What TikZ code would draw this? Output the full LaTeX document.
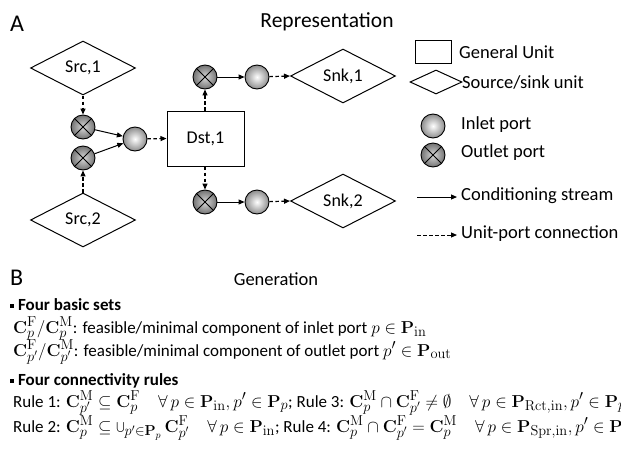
\documentclass[tikz,border=0pt]{standalone}
\usepackage[no-math]{fontspec}
\setmainfont{Carlito}
\usetikzlibrary{shapes.geometric,arrows.meta}
% formulas in the text lines are set a little larger than the words
\DeclareMathSizes{17}{18.5}{13.5}{10}

\tikzset{
  unitbox/.style={draw, line width=1pt, minimum width=77pt, minimum height=55pt, inner sep=0pt, font=\fontsize{18}{20}\selectfont},
  srcsnk/.style={draw, diamond, aspect=2, line width=1pt, minimum width=105pt, minimum height=54pt, inner sep=0pt, font=\fontsize{18}{20}\selectfont},
  inport/.style={circle, draw, line width=0.9pt, minimum size=24pt, inner sep=0pt, inner color=white, outer color=black!45},
  outport/.style={circle, draw, line width=0.9pt, minimum size=24pt, inner sep=0pt, inner color=black!15, outer color=black!55,
    path picture={\draw[line width=0.9pt] (path picture bounding box.north west) -- (path picture bounding box.south east)
      (path picture bounding box.north east) -- (path picture bounding box.south west);}},
  stream/.style={line width=1pt, -{Triangle[length=6pt,width=5pt]}},
  link/.style={line width=1.2pt, dash pattern=on 3.5pt off 2.5pt, -{Triangle[length=6pt,width=5pt]}},
  legtext/.style={anchor=west, inner sep=0pt, font=\fontsize{18.5}{20}\selectfont},
  body/.style={anchor=base west, inner sep=0pt, font=\fontsize{17}{19}\selectfont},
  bodyhead/.style={anchor=base west, inner sep=0pt, font=\fontsize{17}{19}\selectfont\bfseries},
  panel/.style={anchor=base west, inner sep=0pt, font=\fontsize{24}{26}\selectfont},
}
% math shorthands for the set notation
\newcommand{\Cset}[2]{\mathbf{C}_{#1}^{\mathrm{#2}}}
\newcommand{\Pset}[1]{\mathbf{P}_{\mathrm{#1}}}
\newcommand{\gapq}{\hspace{18pt}}

\begin{document}
\begin{tikzpicture}[x=1pt, y=-1pt]
\useasboundingbox (0,0) rectangle (621,453);
\clip (0,0) rectangle (621,453);

% ---- panel A: representation ----
\node[panel] (labA) at (10,31) {A};
\node[anchor=base, inner sep=0pt, font=\fontsize{21.5}{23}\selectfont] (titA) at (327,27) {Representation};

\node[srcsnk] (src1) at (83,68) {Src,1};
\node[srcsnk] (src2) at (83,220) {Src,2};
\node[outport] (o1) at (83,127) {};
\node[outport] (o2) at (83,158) {};
\node[inport] (i1) at (135,139) {};
\node[unitbox] (dst) at (205.5,138.5) {Dst,1};
\node[outport] (o3) at (205,77) {};
\node[inport] (i3) at (257,77) {};
\node[outport] (o4) at (205,202) {};
\node[inport] (i4) at (257,202) {};
\node[srcsnk] (snk1) at (343,76) {Snk,1};
\node[srcsnk] (snk2) at (343,201) {Snk,2};

\draw[link] (src1.south) -- (o1.north);
\draw[link] (src2.north) -- (o2.south);
\draw[stream] (o1) -- (i1);
\draw[stream] (o2) -- (i1);
\draw[link] (i1) -- (dst.west);
\draw[link] (dst.north -| o3) -- (o3.south);
\draw[link] (dst.south -| o4) -- (o4.north);
\draw[stream] (o3) -- (i3);
\draw[stream] (o4) -- (i4);
\draw[link] (i3) -- (snk1.west);
\draw[link] (i4) -- (snk2.west);

% ---- legend ----
\node[draw, line width=1pt, minimum width=36pt, minimum height=23pt, inner sep=0pt] (lbox) at (433,51.5) {};
\node[legtext] (tbox) at (459,52) {General Unit};
\node[draw, diamond, aspect=2.1, line width=1pt, minimum width=52pt, minimum height=24pt, inner sep=0pt] (ldia) at (436,82) {};
\node[legtext] (tdia) at (462,82) {Source/sink unit};
\node[inport] (lin) at (433,126) {};
\node[legtext] (tin) at (461,125) {Inlet port};
\node[outport] (lout) at (433,155) {};
\node[legtext] (tout) at (461,153) {Outlet port};
\coordinate (s0) at (417,197);
\coordinate (s1) at (457,197);
\draw[stream] (s0) -- (s1);
\node[legtext] (tstr) at (461,196) {Conditioning stream};
\coordinate (d0) at (417,235);
\coordinate (d1) at (457,235);
\draw[link, line width=1pt] (d0) -- (d1);
\node[legtext] (tlink) at (461,234) {Unit-port connection};

% ---- panel B: generation ----
\node[panel] (labB) at (10,285) {B};
\node[anchor=base, inner sep=0pt, font=\fontsize{18.5}{20}\selectfont] (titB) at (276,285) {Generation};

\node[bodyhead] (sets) at (10,310) {\raisebox{0.25ex}{\rule{4pt}{4pt}} Four basic sets};
\node[body] (l1) at (13,333) {$\Cset{p}{F}/\Cset{p}{M}$: feasible/minimal component of inlet port $p\in\Pset{in}$};
\node[body] (l2) at (13,356) {$\Cset{p'}{F}/\Cset{p'}{M}$: feasible/minimal component of outlet port $p'\in\Pset{out}$};

\node[bodyhead] (rules) at (10,385) {\raisebox{0.25ex}{\rule{4pt}{4pt}} Four connectivity rules};
\node[body] (r1) at (13,407) {Rule 1: $\Cset{p'}{M}\subseteq\Cset{p}{F}\gapq\forall\,p\in\Pset{in},p'\in\mathbf{P}_p$; Rule 3: $\Cset{p}{M}\cap\Cset{p'}{F}\neq\emptyset\gapq\forall\,p\in\Pset{Rct,in},p'\in\mathbf{P}_p$};
\node[body] (r2) at (13,432) {Rule 2: $\Cset{p}{M}\subseteq\bigcup_{p'\in\mathbf{P}_p}\Cset{p'}{F}\gapq\forall\,p\in\Pset{in}$; Rule 4: $\Cset{p}{M}\cap\Cset{p'}{F}=\Cset{p}{M}\gapq\forall\,p\in\Pset{Spr,in},p'\in\mathbf{P}_p$};
\end{tikzpicture}
\end{document}
